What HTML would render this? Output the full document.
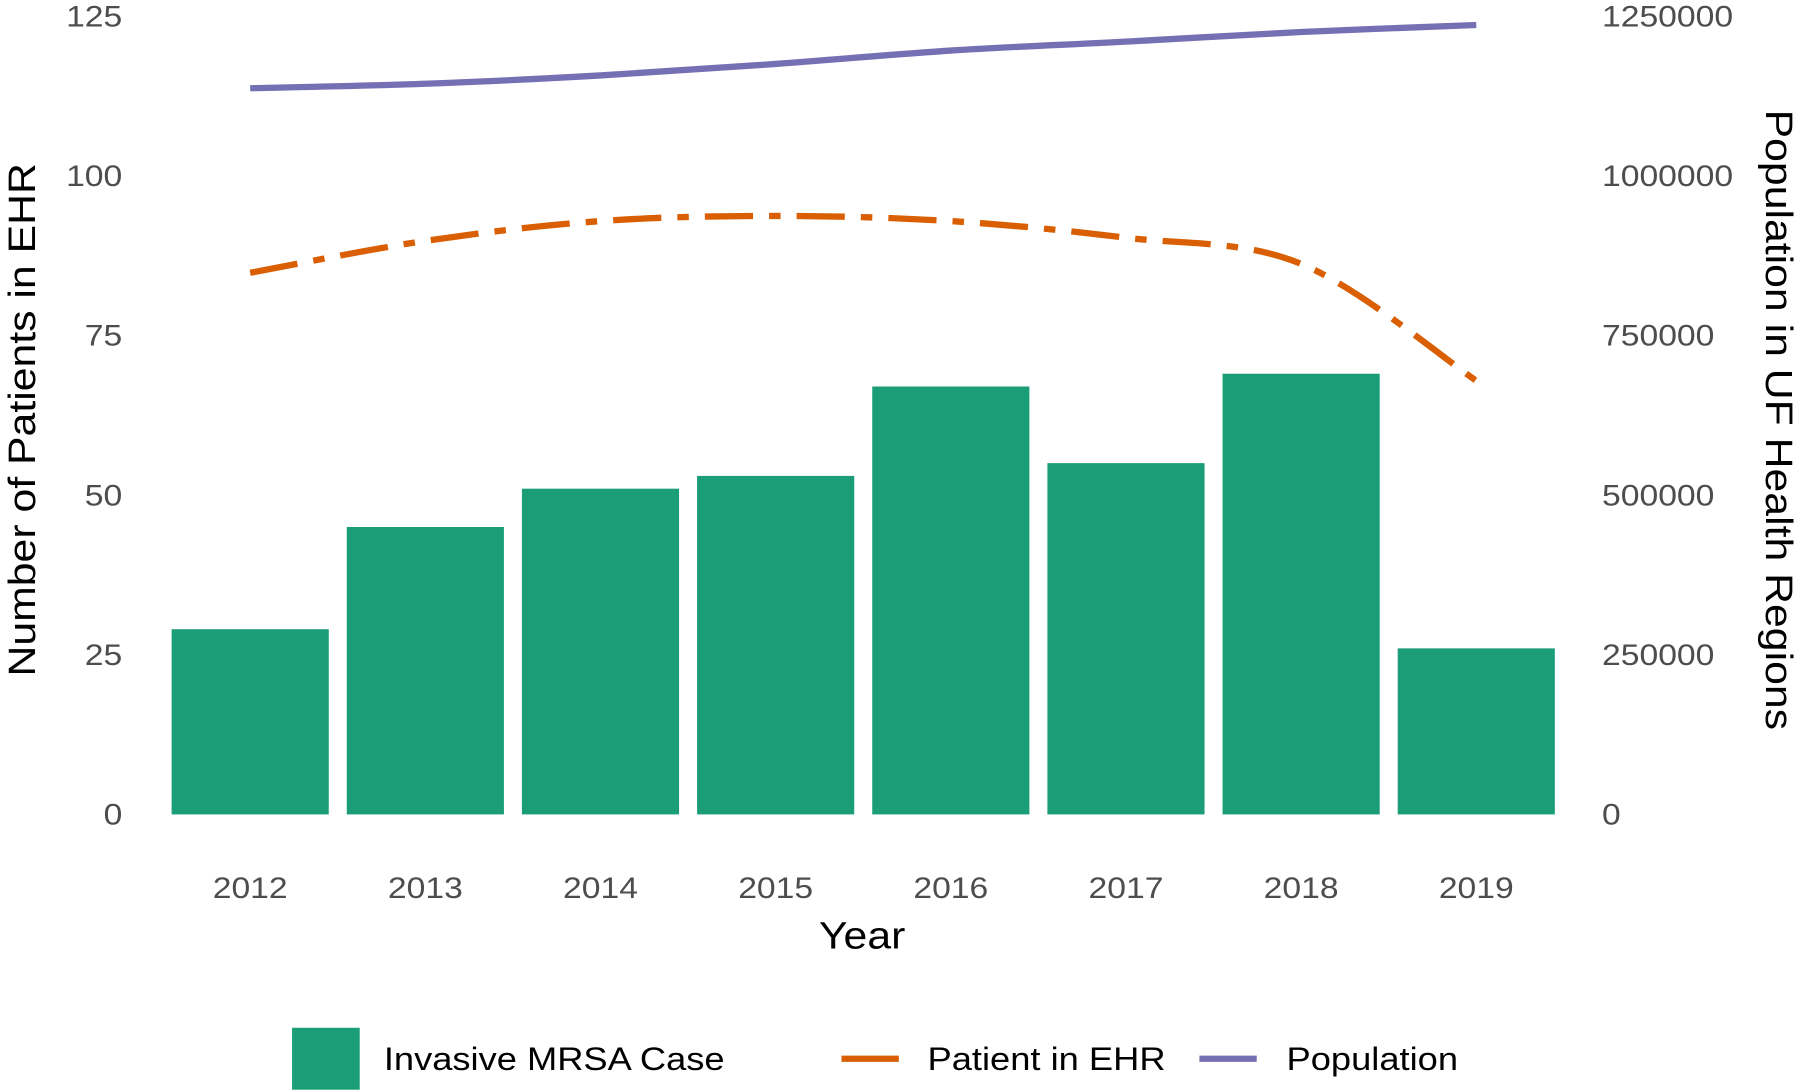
<!DOCTYPE html>
<html><head><meta charset="utf-8"><style>
html,body{margin:0;padding:0;background:#fff;}
svg{display:block;font-family:"Liberation Sans",sans-serif;}
</style></head><body>
<svg id="chart" width="1800" height="1092" viewBox="0 0 1568 952" xmlns="http://www.w3.org/2000/svg">
<g id="yl"></g>
<g id="yr"></g>
<g id="xa"></g>
<g id="bars"></g>
<path id="ehr" fill="none" stroke="#d95f02" stroke-width="5.5" stroke-dasharray="42 14 10 14"/>
<path id="pop" fill="none" stroke="#7570b3" stroke-width="5.5"/>
<text class="st" x="751" y="827" font-size="33" text-anchor="middle" fill="#000">Year</text>
<text class="st" transform="translate(30,366) rotate(-90)" font-size="33" text-anchor="middle" fill="#000">Number of Patients in EHR</text>
<text class="st" transform="translate(1539,366) rotate(90)" font-size="33" text-anchor="middle" fill="#000">Population in UF Health Regions</text>
<g>
<rect x="254" y="896" width="59" height="54" fill="#1b9e77"/>
<text class="st" x="334" y="933" font-size="28" fill="#000">Invasive MRSA Case</text>
<line x1="733" y1="923" x2="783" y2="923" stroke="#d95f02" stroke-width="5.5"/>
<text class="st" x="808" y="933" font-size="28" fill="#000">Patient in EHR</text>
<line x1="1045" y1="923" x2="1095" y2="923" stroke="#7570b3" stroke-width="5.5"/>
<text class="st" x="1121" y="933" font-size="28" fill="#000">Population</text>
</g>
</svg>
<script>
const years = ["2012","2013","2014","2015","2016","2017","2018","2019"];
const mrsaCases = [29, 45, 51, 53, 67, 55, 69, 26];
const ehrPatients = [84.8, 89.8, 92.9, 93.7, 92.9, 90.3, 86.2, 67.9];
const population = [1137000, 1144000, 1157000, 1175000, 1196000, 1210000, 1225000, 1236000];
const leftTicks = [0, 25, 50, 75, 100, 125];
const rightTicks = [0, 250000, 500000, 750000, 1000000, 1250000];

const NS = "http://www.w3.org/2000/svg";
const y0 = 710, yTop = 14, x0 = 217.5, step = 152.7, bw = 137;
const yL = v => y0 - (v / 125) * (y0 - yTop);
const yR = v => y0 - (v / 1250000) * (y0 - yTop);
const xB = i => x0 + i * step;
function mk(tag, attrs, parent, txt) {
  const e = document.createElementNS(NS, tag);
  for (const k in attrs) e.setAttribute(k, attrs[k]);
  if (txt !== undefined) e.textContent = txt;
  parent.appendChild(e);
  return e;
}
const yl = document.getElementById('yl'), yr = document.getElementById('yr'), xa = document.getElementById('xa'), bars = document.getElementById('bars');
leftTicks.forEach(t => {
  const e = mk('text', {x: 106, y: yL(t) + 9, 'font-size': 26, 'text-anchor': 'end', fill: '#4d4d4d', class: 'st'}, yl, String(t));
  
  
});
rightTicks.forEach(t => {
  const e = mk('text', {x: 1396, y: yR(t) + 9, 'font-size': 26, fill: '#4d4d4d', class: 'st'}, yr, String(t));
  
  
});
years.forEach((yv, i) => {
  const e = mk('text', {x: xB(i), y: 783, 'font-size': 26, 'text-anchor': 'middle', fill: '#4d4d4d', class: 'st'}, xa, yv);
  
  
  const r = mk('rect', {x: xB(i) - bw / 2, y: yL(mrsaCases[i]), width: bw, height: y0 - yL(mrsaCases[i]), fill: '#1b9e77'}, bars);
  
  
});
function smooth(pts) {
  let d = 'M' + pts[0][0] + ',' + pts[0][1];
  for (let i = 0; i < pts.length - 1; i++) {
    const p0 = pts[i - 1] || pts[i], p1 = pts[i], p2 = pts[i + 1], p3 = pts[i + 2] || p2;
    const c1 = [p1[0] + (p2[0] - p0[0]) / 6, p1[1] + (p2[1] - p0[1]) / 6];
    const c2 = [p2[0] - (p3[0] - p1[0]) / 6, p2[1] - (p3[1] - p1[1]) / 6];
    d += ' C' + c1 + ' ' + c2 + ' ' + p2;
  }
  return d;
}
document.getElementById('ehr').setAttribute('d', smooth(ehrPatients.map((v, i) => [xB(i), yL(v)])));
document.getElementById('pop').setAttribute('d', smooth(population.map((v, i) => [xB(i), yR(v)])));
document.querySelectorAll('text.st').forEach(t => {
  const w = t.getComputedTextLength();
  t.setAttribute('textLength', (w * 1.13).toFixed(1));
  t.setAttribute('lengthAdjust', 'spacingAndGlyphs');
});
</script>
</body></html>
